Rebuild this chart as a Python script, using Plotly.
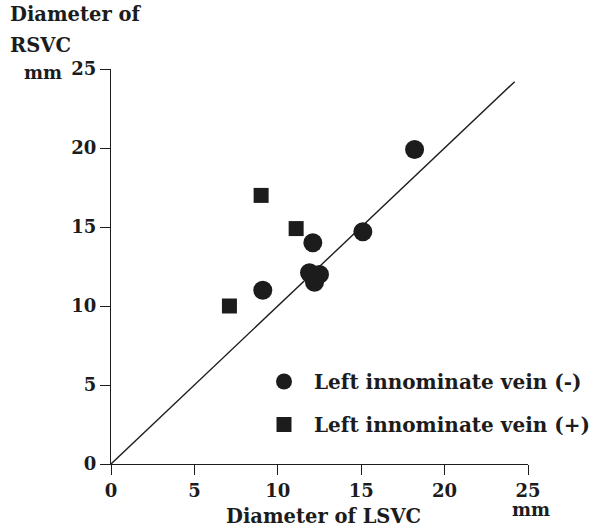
import plotly.graph_objects as go

# Data (mm)
neg_x = [18.2, 15.1, 12.1, 11.9, 12.5, 12.2, 9.1]
neg_y = [19.9, 14.7, 14.0, 12.1, 12.0, 11.5, 11.0]
pos_x = [9.0, 11.1, 7.1]
pos_y = [17.0, 14.9, 10.0]
identity = [0, 24.2]
ticks = [0, 5, 10, 15, 20, 25]

ink = "#1c1c1c"
serif = "DejaVu Serif"

L, T, W, H = 111, 69, 417, 395


def px(xp):
    return (xp - L) / W


def py(yp):
    return (T + H - yp) / H


fig = go.Figure()
fig.add_trace(go.Scatter(x=identity, y=identity, mode="lines",
                         line=dict(color=ink, width=1.4), showlegend=False,
                         hoverinfo="skip"))
fig.add_trace(go.Scatter(x=neg_x, y=neg_y, mode="markers",
                         name="Left innominate vein (-)", legendgroup="a",
                         marker=dict(symbol="circle", size=19, color=ink)))
fig.add_trace(go.Scatter(x=pos_x, y=pos_y, mode="markers",
                         name="Left innominate vein (+)", legendgroup="b",
                         marker=dict(symbol="square", size=15, color=ink)))

axis_common = dict(range=[0, 25], tickvals=ticks, showline=True, linecolor=ink,
                   linewidth=1.4, ticks="outside", ticklen=10, tickwidth=1.4,
                   tickcolor=ink, showgrid=False, zeroline=False, automargin=False,
                   tickfont=dict(family=serif, size=18, color=ink, weight="bold"))

fig.update_xaxes(**axis_common)
fig.update_yaxes(**axis_common)

lab = dict(family=serif, size=19.5, color=ink, weight="bold")
lab_s = dict(family=serif, size=18, color=ink, weight="bold")

fig.update_layout(
    width=607, height=531,
    margin=dict(l=L, r=607 - L - W, t=T, b=531 - T - H, autoexpand=False),
    paper_bgcolor="white", plot_bgcolor="white",
    legend=dict(x=px(254), y=py(362), xanchor="left", yanchor="top",
                font=dict(family=serif, size=20, color=ink, weight="bold"),
                tracegroupgap=14, itemwidth=50, bgcolor="rgba(0,0,0,0)"),
    annotations=[
        dict(text="Diameter of", x=px(8), y=py(1), xref="paper", yref="paper",
             xanchor="left", yanchor="top", showarrow=False, font=lab),
        dict(text="RSVC", x=px(8), y=py(32), xref="paper", yref="paper",
             xanchor="left", yanchor="top", showarrow=False, font=lab),
        dict(text="mm", x=px(64), y=py(72), xref="paper", yref="paper",
             xanchor="right", yanchor="middle", showarrow=False, font=lab_s),
        dict(text="Diameter of LSVC", x=px(323), y=py(503), xref="paper", yref="paper",
             xanchor="center", yanchor="top", showarrow=False, font=lab),
        dict(text="mm", x=px(531), y=py(497), xref="paper", yref="paper",
             xanchor="center", yanchor="top", showarrow=False, font=lab_s),
    ],
)

fig.write_html("out.html", config={"displayModeBar": False},
               post_script="document.body.style.margin='0';document.body.style.overflow='hidden';")
